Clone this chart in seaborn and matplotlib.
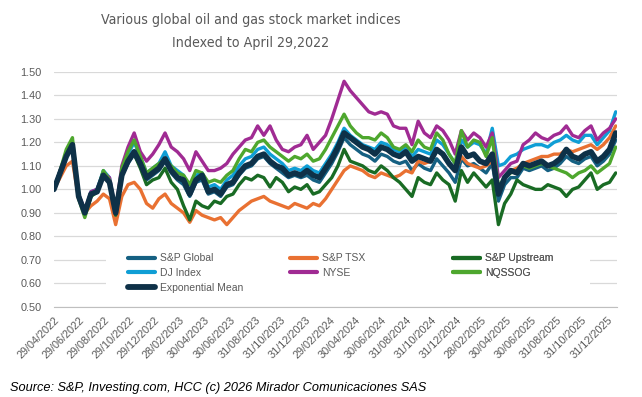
import matplotlib
matplotlib.use("Agg")
import matplotlib.pyplot as plt
import numpy as np
import pandas as pd
import seaborn as sns
from matplotlib.patches import Rectangle

# semi-monthly readings (indexed to 29/04/2022)
start_date = "2022-04-29"
end_date = "2026-01-21"

sp_global = [1.00, 1.06, 1.14, 1.18, 0.97, 0.90, 0.98, 0.99, 1.06, 1.03, 0.90, 1.06, 1.11, 1.15, 1.10, 1.04,
             1.06, 1.08, 1.12, 1.07, 1.04, 1.02, 0.97, 1.03, 1.04, 0.98, 0.99, 0.97, 1.01, 1.02, 1.06, 1.09,
             1.10, 1.13, 1.14, 1.11, 1.09, 1.07, 1.05, 1.06, 1.05, 1.06, 1.04, 1.03, 1.07, 1.11, 1.16, 1.22,
             1.19, 1.17, 1.15, 1.14, 1.12, 1.15, 1.14, 1.12, 1.11, 1.12, 1.08, 1.11, 1.09, 1.08, 1.13, 1.10,
             1.07, 1.03, 1.13, 1.10, 1.11, 1.09, 1.07, 1.11, 0.95, 1.02, 1.05, 1.05, 1.09, 1.08, 1.09, 1.10,
             1.08, 1.09, 1.11, 1.14, 1.12, 1.11, 1.13, 1.14, 1.10, 1.12, 1.15, 1.21]
sp_tsx = [1.00, 1.05, 1.10, 1.12, 0.96, 0.90, 0.93, 0.95, 0.98, 0.96, 0.85, 0.97, 1.02, 1.03, 1.00, 0.94,
          0.92, 0.96, 0.98, 0.94, 0.92, 0.90, 0.86, 0.91, 0.89, 0.88, 0.87, 0.88, 0.85, 0.88, 0.91, 0.93,
          0.95, 0.96, 0.97, 0.95, 0.94, 0.93, 0.92, 0.94, 0.93, 0.92, 0.94, 0.93, 0.96, 1.00, 1.04, 1.08,
          1.10, 1.09, 1.08, 1.06, 1.05, 1.07, 1.06, 1.05, 1.06, 1.08, 1.07, 1.12, 1.11, 1.12, 1.17, 1.15,
          1.11, 1.08, 1.14, 1.11, 1.10, 1.09, 1.10, 1.12, 0.99, 1.05, 1.08, 1.09, 1.11, 1.12, 1.13, 1.14,
          1.14, 1.15, 1.15, 1.17, 1.16, 1.17, 1.18, 1.19, 1.17, 1.19, 1.22, 1.27]
sp_upstream = [1.00, 1.07, 1.15, 1.19, 0.97, 0.89, 0.97, 0.99, 1.07, 1.03, 0.89, 1.06, 1.12, 1.15, 1.09, 1.02,
               1.04, 1.05, 1.09, 1.03, 1.00, 0.93, 0.87, 0.95, 0.93, 0.92, 0.95, 0.94, 0.97, 0.98, 1.02, 1.05,
               1.04, 1.06, 1.05, 1.01, 1.05, 1.03, 0.99, 1.01, 1.00, 1.02, 0.98, 0.99, 1.02, 1.05, 1.10, 1.17,
               1.12, 1.11, 1.10, 1.08, 1.07, 1.10, 1.08, 1.05, 1.03, 1.00, 0.97, 1.05, 1.03, 1.02, 1.07, 1.04,
               1.02, 0.95, 1.08, 1.03, 1.07, 1.04, 1.01, 1.04, 0.85, 0.94, 0.98, 1.04, 1.02, 1.01, 1.00, 1.00,
               1.02, 1.01, 1.00, 0.97, 1.00, 1.01, 1.04, 1.07, 1.00, 1.02, 1.03, 1.07]
dj_index = [1.00, 1.08, 1.15, 1.20, 0.98, 0.90, 0.99, 1.00, 1.08, 1.05, 0.90, 1.08, 1.15, 1.20, 1.14, 1.07,
            1.09, 1.11, 1.16, 1.10, 1.08, 1.06, 0.99, 1.06, 1.07, 1.01, 1.02, 1.00, 1.04, 1.06, 1.10, 1.13,
            1.14, 1.17, 1.18, 1.15, 1.13, 1.11, 1.08, 1.09, 1.08, 1.10, 1.08, 1.07, 1.11, 1.15, 1.20, 1.26,
            1.23, 1.21, 1.19, 1.18, 1.17, 1.20, 1.19, 1.17, 1.16, 1.18, 1.14, 1.17, 1.16, 1.15, 1.21, 1.19,
            1.15, 1.11, 1.21, 1.18, 1.20, 1.19, 1.15, 1.26, 1.10, 1.11, 1.14, 1.15, 1.17, 1.18, 1.19, 1.19,
            1.18, 1.20, 1.21, 1.23, 1.21, 1.20, 1.23, 1.23, 1.19, 1.22, 1.25, 1.33]
nyse = [1.00, 1.08, 1.15, 1.20, 0.98, 0.91, 0.99, 1.00, 1.07, 1.05, 0.91, 1.10, 1.18, 1.24, 1.16, 1.12,
        1.15, 1.19, 1.24, 1.18, 1.16, 1.13, 1.08, 1.16, 1.12, 1.08, 1.08, 1.09, 1.11, 1.15, 1.18, 1.21,
        1.22, 1.27, 1.23, 1.27, 1.21, 1.17, 1.16, 1.18, 1.19, 1.23, 1.17, 1.20, 1.23, 1.30, 1.38, 1.46,
        1.42, 1.39, 1.36, 1.33, 1.32, 1.33, 1.32, 1.27, 1.26, 1.26, 1.19, 1.29, 1.24, 1.22, 1.27, 1.25,
        1.21, 1.15, 1.25, 1.21, 1.24, 1.22, 1.18, 1.24, 1.05, 1.08, 1.11, 1.12, 1.19, 1.21, 1.24, 1.22,
        1.21, 1.23, 1.24, 1.27, 1.23, 1.22, 1.25, 1.27, 1.21, 1.24, 1.26, 1.30]
nqssog = [1.00, 1.08, 1.17, 1.22, 0.96, 0.88, 0.97, 0.99, 1.08, 1.04, 0.90, 1.09, 1.16, 1.21, 1.14, 1.07,
          1.09, 1.11, 1.13, 1.10, 1.07, 1.06, 1.02, 1.08, 1.07, 1.03, 1.04, 1.03, 1.06, 1.08, 1.13, 1.17,
          1.16, 1.20, 1.21, 1.18, 1.16, 1.14, 1.12, 1.14, 1.13, 1.15, 1.12, 1.13, 1.17, 1.22, 1.27, 1.32,
          1.27, 1.24, 1.22, 1.22, 1.21, 1.24, 1.22, 1.18, 1.17, 1.19, 1.16, 1.21, 1.18, 1.17, 1.24, 1.21,
          1.15, 1.11, 1.25, 1.18, 1.21, 1.20, 1.14, 1.22, 1.01, 1.05, 1.07, 1.08, 1.10, 1.09, 1.10, 1.11,
          1.10, 1.09, 1.08, 1.07, 1.05, 1.07, 1.08, 1.10, 1.07, 1.09, 1.11, 1.18]
exp_mean = [1.00, 1.07, 1.14, 1.19, 0.97, 0.90, 0.98, 0.99, 1.06, 1.03, 0.90, 1.06, 1.12, 1.16, 1.11, 1.05,
            1.07, 1.09, 1.13, 1.08, 1.05, 1.04, 0.98, 1.04, 1.06, 0.99, 1.00, 0.98, 1.02, 1.03, 1.07, 1.10,
            1.11, 1.14, 1.15, 1.12, 1.10, 1.09, 1.06, 1.07, 1.06, 1.08, 1.06, 1.05, 1.09, 1.13, 1.18, 1.24,
            1.22, 1.20, 1.18, 1.17, 1.15, 1.18, 1.17, 1.15, 1.14, 1.16, 1.12, 1.14, 1.13, 1.12, 1.17, 1.15,
            1.11, 1.08, 1.18, 1.14, 1.15, 1.12, 1.11, 1.15, 0.98, 1.05, 1.08, 1.07, 1.11, 1.10, 1.11, 1.12,
            1.10, 1.11, 1.13, 1.17, 1.14, 1.13, 1.15, 1.16, 1.12, 1.14, 1.17, 1.24]

series_names = ["S&P Global", "S&P TSX", "S&P Upstream", "DJ Index", "NYSE", "NQSSOG", "Exponential Mean"]
series_values = [sp_global, sp_tsx, sp_upstream, dj_index, nyse, nqssog, exp_mean]
series_colors = ["#156082", "#E97132", "#196B24", "#0F9ED5", "#A02B93", "#4EA72E", "#0E3148"]

# legend columns, read row by row in the reference
legend_cols = [["S&P Global", "DJ Index", "Exponential Mean"], ["S&P TSX", "NYSE"], ["S&P Upstream", "NQSSOG"]]

tick_labels = ["29/04/2022", "29/06/2022", "29/08/2022", "29/10/2022", "29/12/2022", "28/02/2023",
               "30/04/2023", "30/06/2023", "31/08/2023", "31/10/2023", "31/12/2023", "29/02/2024",
               "30/04/2024", "30/06/2024", "31/08/2024", "31/10/2024", "31/12/2024", "28/02/2025",
               "30/04/2025", "30/06/2025", "31/08/2025", "31/10/2025", "31/12/2025"]

dates = pd.date_range(start_date, end_date, periods=len(exp_mean))
df = pd.DataFrame({name: vals for name, vals in zip(series_names, series_values)}, index=dates)
df.index.name = "date"

sns.set_style("white")
plt.rcParams["font.family"] = ["Liberation Sans", "DejaVu Sans"]
grey = "#595959"

fig = plt.figure(figsize=(6.42, 3.97), dpi=100)
ax = fig.add_axes([0.084, 0.227, 0.877, 0.592])

handles = {}
for name, color in zip(series_names, series_colors):
    lw = 4.0 if name == "Exponential Mean" else 2.4
    sns.lineplot(data=df, x=df.index, y=name, color=color, lw=lw, ax=ax, label=name)
    handles[name] = ax.lines[-1]
ax.get_legend().remove()

ax.set_ylim(0.5, 1.5)
ax.set_yticks(np.arange(0.5, 1.51, 0.1))
ax.yaxis.set_major_formatter(matplotlib.ticker.FormatStrFormatter("%.2f"))
tick_dates = pd.to_datetime(tick_labels, format="%d/%m/%Y")
ax.set_xticks(tick_dates)
ax.set_xticklabels(tick_labels, rotation=45, ha="right", rotation_mode="anchor")
ax.set_xlim(pd.Timestamp(start_date), pd.Timestamp("2026-01-24"))
ax.set_xlabel("")
ax.set_ylabel("")

ax.grid(axis="y", color="#D9D9D9", lw=0.9)
ax.set_axisbelow(True)
for side in ["left", "right", "top"]:
    ax.spines[side].set_visible(False)
ax.spines["bottom"].set_color("#BFBFBF")
ax.tick_params(axis="x", colors="#BFBFBF", length=4, width=0.8, direction="out", labelcolor=grey, labelsize=7.8, pad=2)
ax.tick_params(axis="y", length=0, labelcolor=grey, labelsize=7.8, pad=9)

# white panel behind the legend, hiding the gridlines like the reference
ax.add_patch(Rectangle((0.092, 0.04), 0.86, 0.225, transform=ax.transAxes, facecolor="white",
                       edgecolor="none", zorder=4))
for col_x, names in zip([0.131, 0.419, 0.709], legend_cols):
    leg = ax.legend([handles[n] for n in names], names, loc="upper left", bbox_to_anchor=(col_x, 0.228),
                    frameon=False, fontsize=7.5, handlelength=2.6, handletextpad=0.5, labelspacing=0.45,
                    borderpad=0, borderaxespad=0)
    leg.set_zorder(5)
    for txt in leg.get_texts():
        txt.set_color(grey)
    for h in leg.legend_handles:
        h.set_linewidth(4.2 if h.get_label() == "Exponential Mean" else 3.0)
    ax.add_artist(leg)

title_font = dict(fontsize=10.2, color=grey, family=["DejaVu Sans"], fontstretch="condensed",
                  ha="center", va="center")
fig.text(0.391, 0.949, "Various global oil and gas stock market indices", **title_font)
fig.text(0.391, 0.891, "Indexed to April 29,2022", **title_font)
fig.text(0.015, 0.022, "Source: S&P, Investing.com, HCC (c) 2026 Mirador Comunicaciones SAS", ha="left",
         va="center", fontsize=9.2, style="italic", color="black")

fig.savefig("out.png", dpi=100)
plt.close(fig)
